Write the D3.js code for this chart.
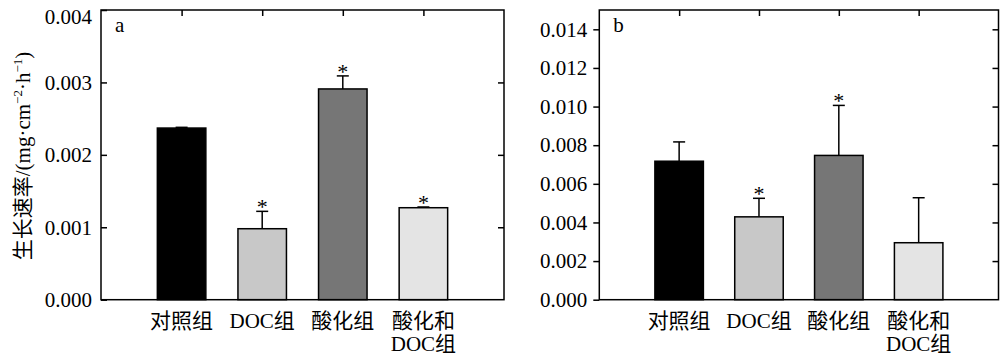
<!DOCTYPE html>
<html><head><meta charset="utf-8">
<script src="https://cdn.jsdelivr.net/npm/d3@7"></script>
<style>
body{margin:0;background:#fff;}
text{font-family:"Liberation Serif","Noto Sans CJK SC",serif;}
</style></head>
<body><svg id="c" width="1000" height="355"></svg>
<script>
const categories = ["对照组","DOC组","酸化组","酸化和DOC组"];
const catLines = [["对照组"],["DOC组"],["酸化组"],["酸化和","DOC组"]];
const colors = ["#000000","#c8c8c8","#767676","#e4e4e4"];
const valuesA = [0.00237, 0.00098, 0.00291, 0.00127];
const errA    = [0.00001, 0.00024, 0.00018, 0.00001];
const starsA  = [false, true, true, true];
const valuesB = [0.00717, 0.00429, 0.00747, 0.00295];
const errB    = [0.00100, 0.00096, 0.00259, 0.00233];
const starsB  = [false, true, true, false];
const ticksA = [0, 0.001, 0.002, 0.003, 0.004];
const ticksB = [0, 0.002, 0.004, 0.006, 0.008, 0.010, 0.012, 0.014];

const svg = d3.select("#c");

function panel(o){
  const g = svg.append("g");
  const x = d3.scalePoint().domain(categories).range([o.left, o.right]).padding(1);
  const y = d3.scaleLinear().domain(o.domain).range([o.bottom, o.top]);
  const bw = 48.5;
  o.values.forEach((v,i)=>{
    const cx = x(categories[i]);
    const et = y(v + o.err[i]);
    g.append("line").attr("x1",cx).attr("x2",cx).attr("y1",y(v)).attr("y2",et)
      .attr("stroke","#000").attr("stroke-width",1.5);
    g.append("line").attr("x1",cx-6).attr("x2",cx+6).attr("y1",et).attr("y2",et)
      .attr("stroke","#000").attr("stroke-width",1.5);
    g.append("rect").attr("x",cx-bw/2).attr("y",y(v)).attr("width",bw).attr("height",y(0)-y(v))
      .attr("fill",colors[i]).attr("stroke","#000").attr("stroke-width",1.5);
    if(o.stars[i]) g.append("text").attr("x",cx).attr("y",et+3).attr("text-anchor","middle")
      .attr("font-size",22).text("*");
  });
  const ax = d3.axisLeft(y).tickValues(o.ticks).tickFormat(d3.format(".3f"))
      .tickSizeInner(o.leftOut? 6 : -6).tickSizeOuter(0).tickPadding(o.leftOut? 6 : 9);
  const ga = g.append("g").attr("transform",`translate(${o.left},0)`).call(ax);
  ga.select(".domain").remove();
  ga.selectAll("line").attr("stroke","#000").attr("stroke-width",1.5);
  ga.selectAll("text").attr("font-size",21).attr("fill","#000")
    .style("font-family",'"Liberation Serif",serif')
    .attr("dy", d => (y(d) - o.top < 8) ? "0.62em" : "0.32em");
  const ar = d3.axisRight(y).tickValues(o.ticks.filter(t=>t!==0 && y(t)>o.top+1)).tickFormat("")
      .tickSizeInner(-6).tickSizeOuter(0);
  const gr = g.append("g").attr("transform",`translate(${o.right},0)`).call(ar);
  gr.select(".domain").remove();
  gr.selectAll("line").attr("stroke","#000").attr("stroke-width",1.5);
  const at = d3.axisTop(x).tickFormat("").tickSizeInner(-6).tickSizeOuter(0);
  const gt = g.append("g").attr("transform",`translate(0,${o.top})`).call(at);
  gt.select(".domain").remove();
  gt.selectAll("line").attr("stroke","#000").attr("stroke-width",1.5);
  g.append("rect").attr("x",o.left).attr("y",o.top).attr("width",o.right-o.left).attr("height",o.bottom-o.top)
    .attr("fill","none").attr("stroke","#000").attr("stroke-width",1.5);
  catLines.forEach((lines,i)=>{
    const t = g.append("text").attr("x",x(categories[i])).attr("y",o.bottom+28)
      .attr("text-anchor","middle").attr("font-size",21);
    lines.forEach((l,j)=>t.append("tspan").attr("x",x(categories[i])).attr("dy",j?23:0).text(l));
  });
  g.append("text").attr("x",o.left+14).attr("y",o.top+22).attr("font-size",21).text(o.letter);
}

panel({left:101,right:504,top:10,bottom:299.7,domain:[0,0.004],values:valuesA,err:errA,stars:starsA,ticks:ticksA,leftOut:false,letter:"a"});
panel({left:599.3,right:998.5,top:10,bottom:299.7,domain:[0,0.015],values:valuesB,err:errB,stars:starsB,ticks:ticksB,leftOut:true,letter:"b"});

const yl = svg.append("text").attr("transform","translate(30,156) rotate(-90)")
  .attr("text-anchor","middle").attr("font-size",21);
yl.append("tspan").text("生长速率/(mg·cm");
yl.append("tspan").attr("font-size",13).attr("dy",-8).text("−2");
yl.append("tspan").attr("dy",8).text("·h");
yl.append("tspan").attr("font-size",13).attr("dy",-8).text("−1");
yl.append("tspan").attr("dy",8).text(")");
</script></body></html>
